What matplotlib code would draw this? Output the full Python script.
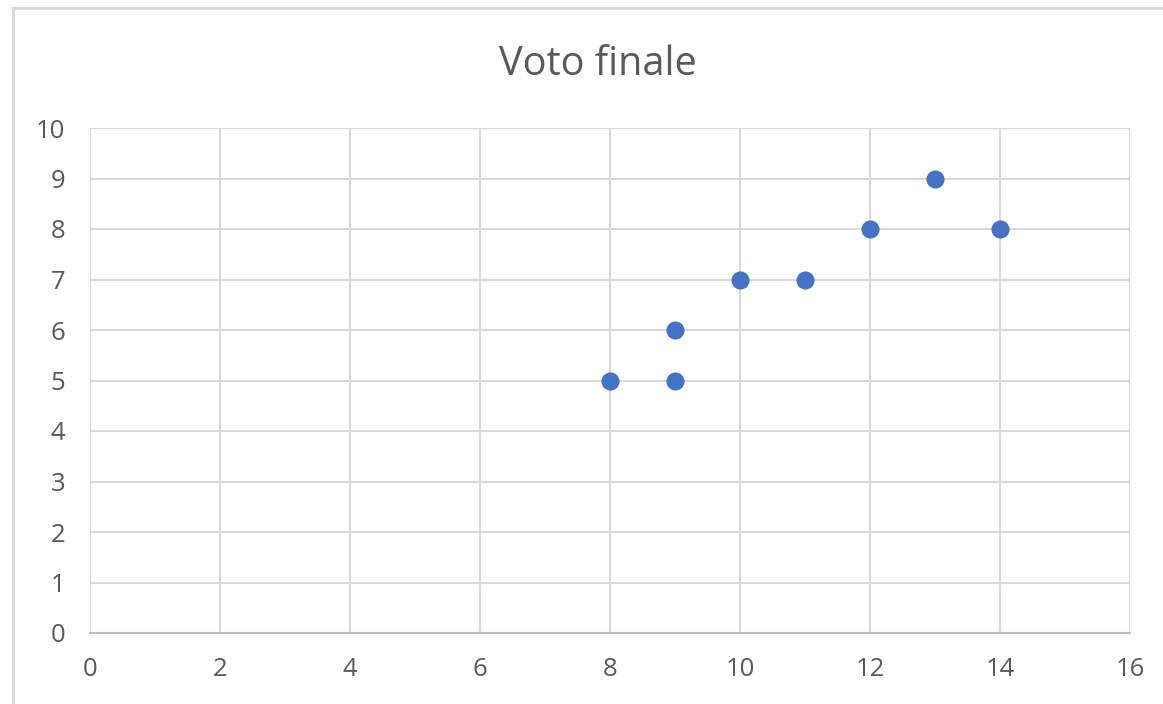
import matplotlib
matplotlib.use("Agg")
import matplotlib.pyplot as plt
from matplotlib.patches import Rectangle

# Data
title = "Voto finale"
x_values = [8, 9, 9, 10, 11, 12, 13, 14]
y_values = [5, 5, 6, 7, 7, 8, 9, 8]
x_ticks = [0, 2, 4, 6, 8, 10, 12, 14, 16]
y_ticks = [0, 1, 2, 3, 4, 5, 6, 7, 8, 9, 10]

W, H, DPI = 1163, 704, 100
plt.rcParams['font.family'] = ['Open Sans', 'DejaVu Sans']

fig = plt.figure(figsize=(W / DPI, H / DPI), dpi=DPI)
fig.patch.set_facecolor('white')

# Chart frame (only its left and top sides fall inside the canvas)
frame = Rectangle((13 / W, -0.1), 1.2, 1 - 8 / H + 0.1, transform=fig.transFigure,
                  fill=False, edgecolor='#d9d9d9', linewidth=2.2, zorder=0)
fig.patches.append(frame)

ax = fig.add_axes([90 / W, 1 - 633 / H, (1130 - 90) / W, (633 - 128) / H])
ax.scatter(x_values, y_values, s=170, color='#4472C4', zorder=3, linewidths=0)

ax.set_xlim(0, 16)
ax.set_ylim(0, 10)
ax.set_xticks(x_ticks)
ax.set_yticks(y_ticks)
ax.grid(True, color='#d9d9d9', linewidth=1.5, zorder=0)
ax.set_axisbelow(True)

for side in ['top', 'right', 'left']:
    ax.spines[side].set_visible(False)
ax.spines['bottom'].set_color('#bfbfbf')
ax.spines['bottom'].set_linewidth(1.5)

ax.tick_params(axis='both', length=0, labelsize=18.5, labelcolor='#595959')
ax.tick_params(axis='x', pad=17)
ax.tick_params(axis='y', pad=18)

fig.text(598 / W, 1 - 75 / H, title, ha='center', va='baseline',
         fontsize=28.5, color='#595959')

fig.savefig('out.png', dpi=DPI, facecolor='white')
